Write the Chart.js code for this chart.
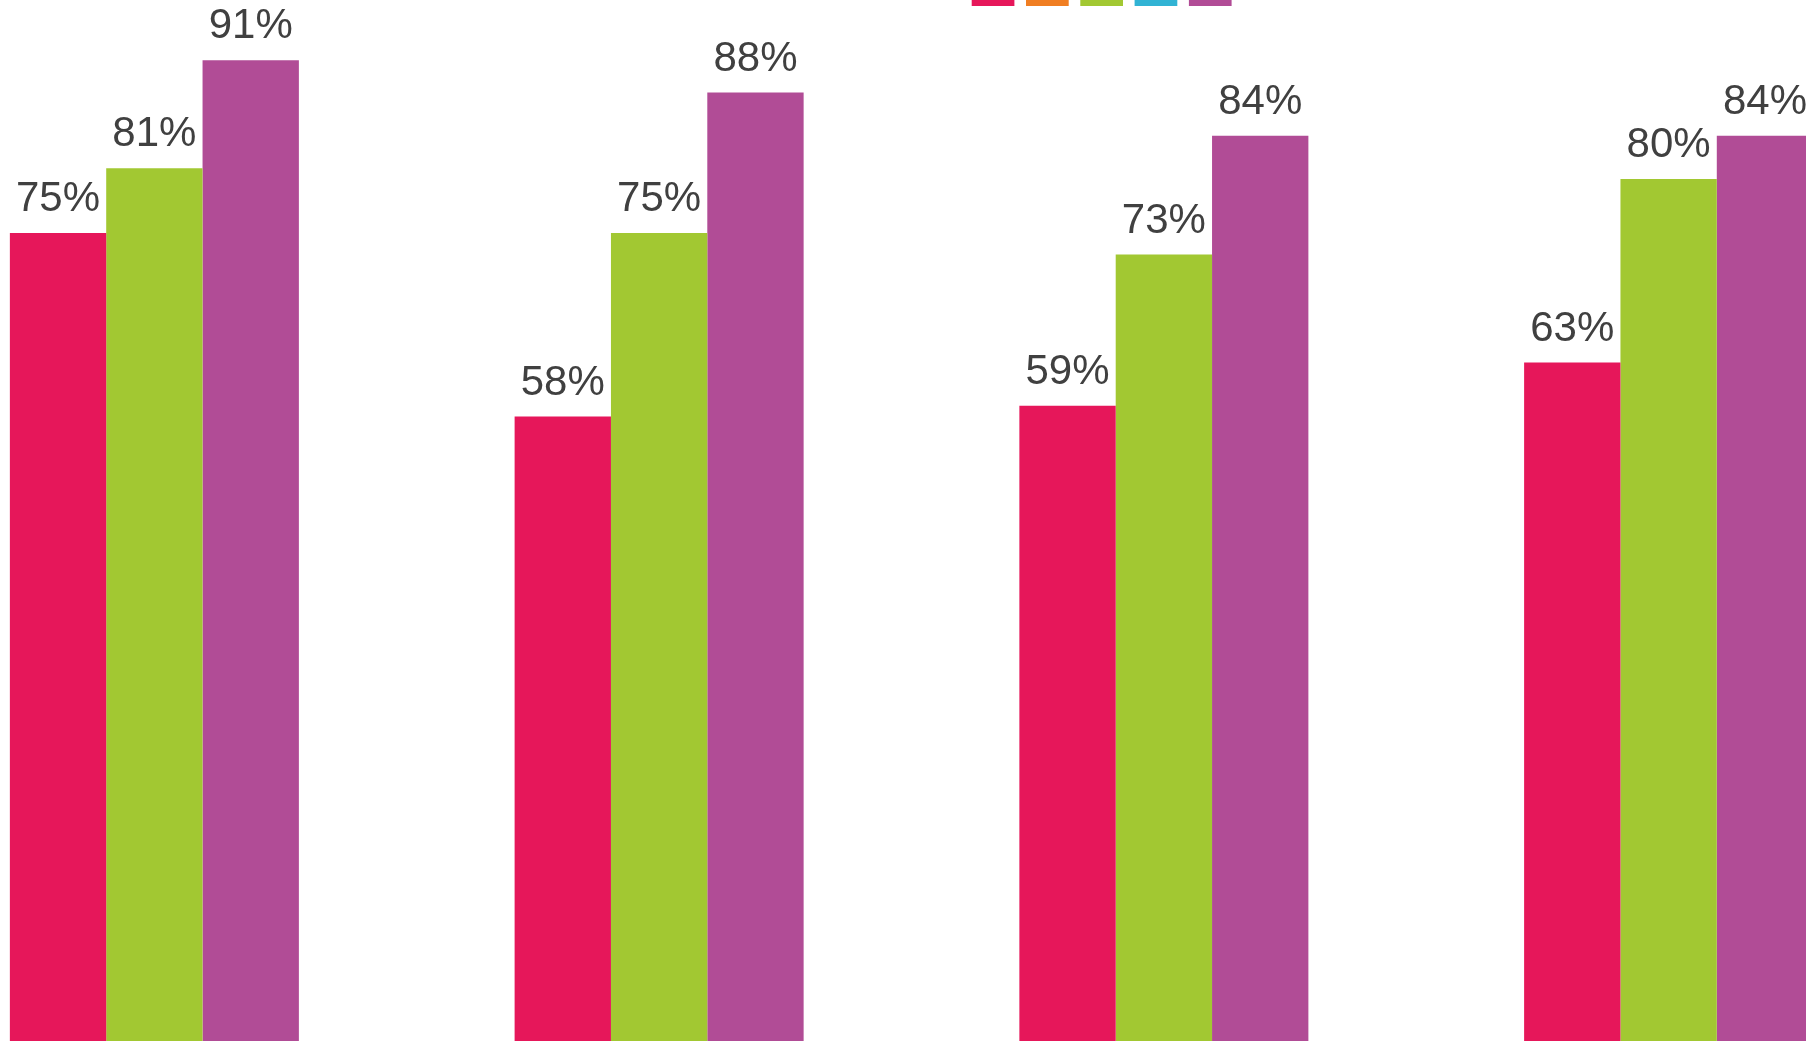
<!DOCTYPE html>
<html>
<head>
<meta charset="utf-8">
<script src="https://cdn.jsdelivr.net/npm/chart.js@4"></script>
<style>
  html, body { margin: 0; padding: 0; background: #fff; overflow: hidden; width: 1806px; height: 1041px; }
  #wrap { position: absolute; left: -98px; top: -37px; width: 2019px; height: 1080px; }
</style>
</head>
<body>
<div id="wrap"><canvas id="chart" width="2019" height="1080"></canvas></div>
<script>
const categories = ['Group 1', 'Group 2', 'Group 3', 'Group 4'];
const seriesNames = ['Series 1', 'Series 2', 'Series 3', 'Series 4', 'Series 5'];
const seriesColors = ['#e6175a', '#f07e22', '#a2c832', '#31b3d4', '#b14c96'];
const series1 = [75, 58, 59, 63];
const series2 = [null, null, null, null];
const series3 = [81, 75, 73, 80];
const series4 = [null, null, null, null];
const series5 = [91, 88, 84, 84];

const allSeries = [series1, series2, series3, series4, series5];

// value labels above each bar
const valueLabels = {
  id: 'valueLabels',
  afterDatasetsDraw(chart) {
    const ctx = chart.ctx;
    ctx.save();
    ctx.fillStyle = '#404040';
    ctx.font = '42px "Liberation Sans", Arial, sans-serif';
    ctx.textAlign = 'center';
    ctx.textBaseline = 'alphabetic';
    chart.data.datasets.forEach((ds, i) => {
      const meta = chart.getDatasetMeta(i);
      meta.data.forEach((bar, j) => {
        const v = ds.data[j];
        if (v === null) return;
        ctx.fillText(v + '%', bar.x, bar.y - 22);
      });
    });
    ctx.restore();
  }
};

// legend swatches (only the bottom of them is visible)
const swatches = {
  id: 'swatches',
  afterDraw(chart) {
    const ctx = chart.ctx;
    ctx.save();
    chart.data.datasets.forEach((ds, i) => {
      ctx.fillStyle = ds.backgroundColor;
      ctx.fillRect(971.7 + 98 + i * 54.3, 37 - 14 + 6, 42.7, 14);
    });
    ctx.restore();
  }
};

new Chart(document.getElementById('chart'), {
  type: 'bar',
  data: {
    labels: categories,
    datasets: allSeries.map((data, i) => ({
      label: seriesNames[i],
      data: data,
      backgroundColor: seriesColors[i],
      borderWidth: 0,
      categoryPercentage: 0.5726,
      barPercentage: 1.0,
      skipNull: true,
    })),
  },
  options: {
    responsive: false,
    devicePixelRatio: 1,
    animation: false,
    layout: { padding: 0 },
    scales: {
      x: { display: false },
      y: { display: false, min: 0, max: 100 },
    },
    plugins: {
      legend: { display: false },
      tooltip: { enabled: false },
    },
  },
  plugins: [valueLabels, swatches],
});
</script>
</body>
</html>
